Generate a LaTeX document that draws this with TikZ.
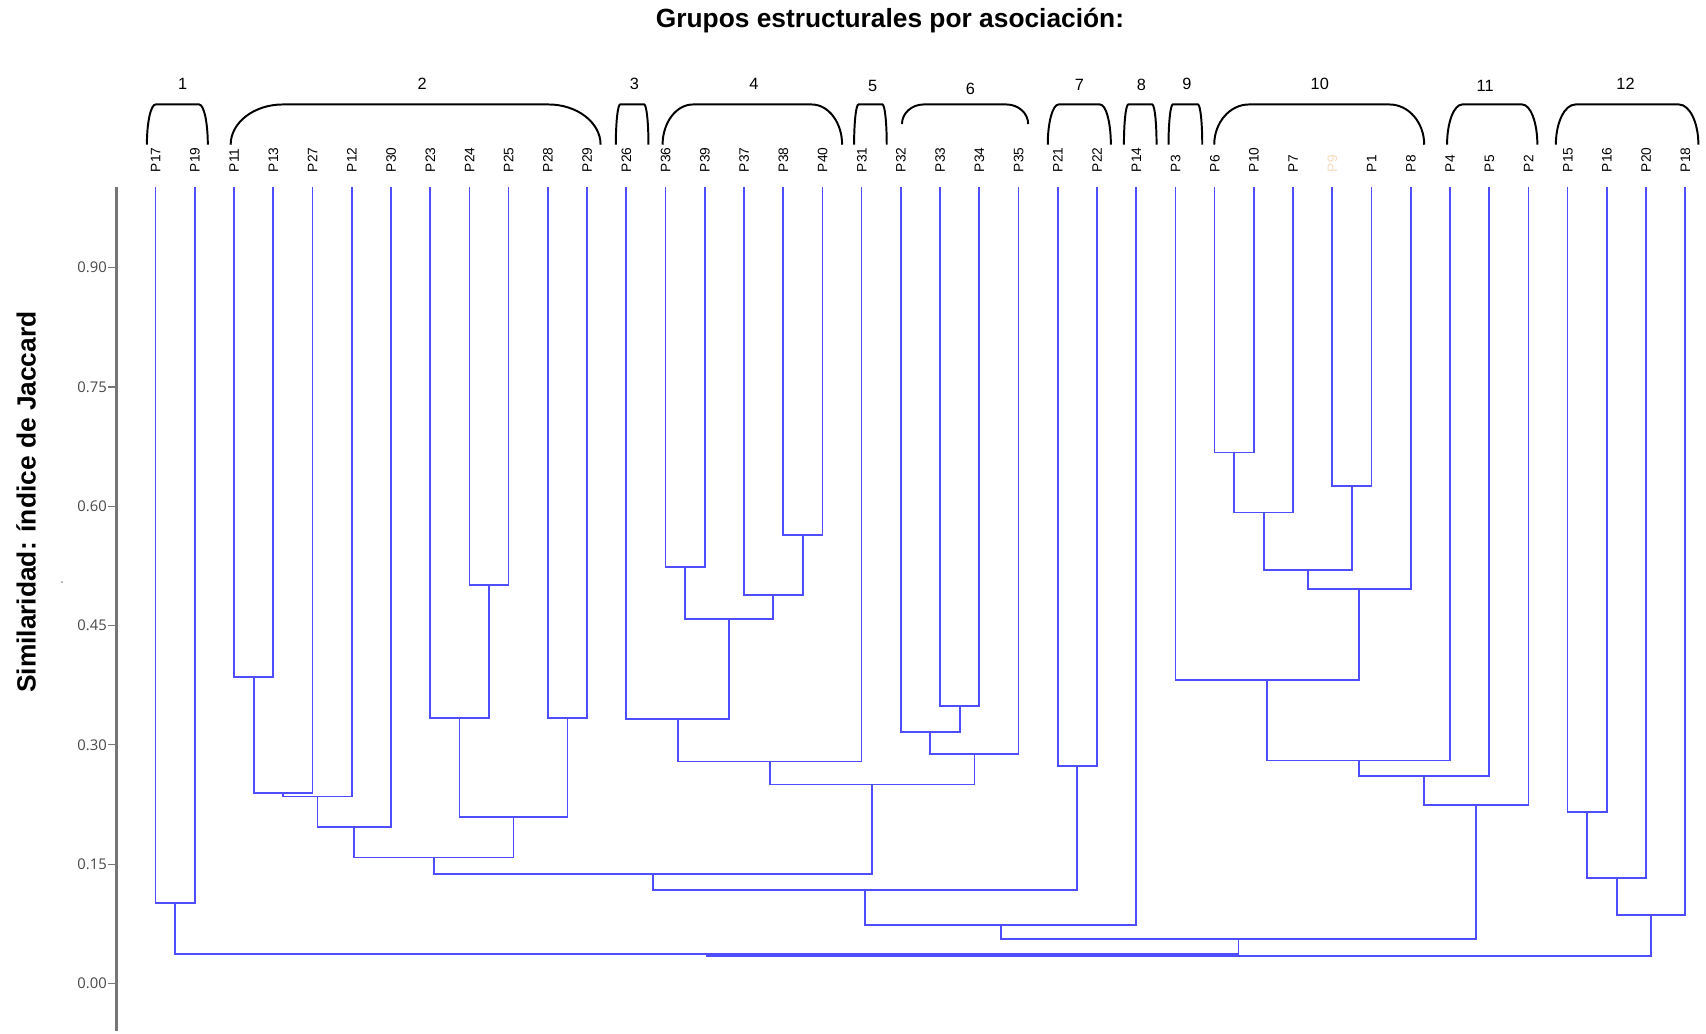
\documentclass[tikz,border=0pt]{standalone}
\usepackage{fontspec}
\setmainfont{Liberation Sans}
\newfontfamily\tickfont{Open Sans}
\usetikzlibrary{calc}

\definecolor{dendro}{RGB}{78,78,255}
\definecolor{axisgray}{RGB}{118,118,118}
\definecolor{ticktext}{RGB}{72,72,72}
\definecolor{faintlabel}{RGB}{248,220,190}

% join two clusters at height #4: new cluster #1, children #2 and #3
\newcommand\joinat[4]{%
  \coordinate (#1-c) at ($(#2)!0.5!(#3)$);
  \coordinate (#1) at (#1-c |- 0,#4);
  \draw[branch] (#2) -- (#2 |- #1) -- (#3 |- #1) -- (#3);
}

\begin{document}
\begin{tikzpicture}[x=0.5pt,y=-0.5pt,
  branch/.style={draw=dendro,line width=0.8pt,line join=miter},
  axisline/.style={draw=axisgray,line width=1pt},
  tickmark/.style={draw=axisgray,line width=0.5pt},
  ticklabel/.style={anchor=east,inner sep=0pt,text=ticktext,font=\tickfont\fontsize{6.8}{7}\selectfont},
  leaflabel/.style={rotate=90,anchor=west,inner sep=0pt,text height=4.5pt,text depth=0pt,font=\fontsize{6.3}{6.3}\selectfont},
  grouplabel/.style={inner sep=0pt,font=\fontsize{7.5}{7.5}\selectfont},
  bracket/.style={draw=black,line width=0.9pt},
  titletext/.style={inner sep=0pt,font=\bfseries\fontsize{12.1}{13}\selectfont},
]
\useasboundingbox (0,0) rectangle (1568,950);

% title and axis caption
\node[titletext,anchor=base] (title) at (818,25) {Grupos estructurales por asociación:};
\node[titletext,rotate=90] (ylab) at (24,461.5) {Similaridad: índice de Jaccard};
\fill[black!45] (57,535) circle[radius=0.45pt];

% similarity axis
\coordinate (axtop) at (107,172);
\coordinate (axbot) at (107,948);
\draw[axisline] (axtop) -- (axbot);
\foreach \v/\lab [count=\k] in {0/0.00,0.15/0.15,0.30/0.30,0.45/0.45,0.60/0.60,0.75/0.75,0.90/0.90}{
  \pgfmathsetmacro\yy{904-731.1*\v}
  \coordinate (tk\k) at (107,\yy);
  \draw[tickmark] (tk\k) -- ++(-8,0);
  \node[ticklabel] (tl\k) at (98.5,\yy) {\lab};
}

% leaves
\foreach \lab/\col [count=\i from 0] in {P17/black,P19/black,P11/black,P13/black,P27/black,P12/black,P30/black,P23/black,P24/black,P25/black,P28/black,P29/black,P26/black,P36/black,P39/black,P37/black,P38/black,P40/black,P31/black,P32/black,P33/black,P34/black,P35/black,P21/black,P22/black,P14/black,P3/black,P6/black,P10/black,P7/black,P9/faintlabel,P1/black,P8/black,P4/black,P5/black,P2/black,P15/black,P16/black,P20/black,P18/black}{
  \pgfmathsetmacro\xx{143+36.05*\i}
  \node[leaflabel,text=\col] (\lab) at (\xx,158.5) {\lab};
  \coordinate (l-\lab) at (\xx,172);
}

% group brackets with their numbers
\foreach \xl/\xr/\rx/\yb/\num/\lx/\ly in {
  135/191/8/133/1/168/77, 212/552/48/133/2/388/77, 566/596/4/133/3/583/77,
  609/774/28/133/4/693/77, 785/815/4/133/5/802/79, 829/945/20/114/6/892/82,
  963/1021/10/133/7/992/78, 1033/1063/4/133/8/1049/78, 1074/1105/4/133/9/1091/77,
  1116/1309/32/133/10/1213/77, 1330/1413/14/133/11/1365/79, 1430/1561/18/133/12/1494/77}{
  \pgfmathsetmacro\hh{\yb-96}
  \pgfmathsetmacro\cy{\yb-0.552*\hh}
  \pgfmathsetmacro\ax{\xl+\rx}
  \pgfmathsetmacro\acx{\xl+0.448*\rx}
  \pgfmathsetmacro\bx{\xr-\rx}
  \pgfmathsetmacro\bcx{\xr-0.448*\rx}
  \draw[bracket] (\xl,\yb) .. controls (\xl,\cy) and (\acx,96) .. (\ax,96)
     -- (\bx,96) .. controls (\bcx,96) and (\xr,\cy) .. (\xr,\yb);
  \node[grouplabel] (g\num) at (\lx,\ly) {\num};
}

% dendrogram
\joinat{m1}{l-P17}{l-P19}{830}
\joinat{m2}{l-P11}{l-P13}{622}
\joinat{m3}{m2}{l-P27}{729}
\joinat{m4}{m3}{l-P12}{732}
\joinat{m5}{m4}{l-P30}{760}
\joinat{m6}{l-P24}{l-P25}{538}
\joinat{m7}{l-P23}{m6}{660}
\joinat{m8}{l-P28}{l-P29}{660}
\joinat{m9}{m7}{m8}{751}
\joinat{m10}{m5}{m9}{788}
\joinat{m12}{l-P36}{l-P39}{521}
\joinat{m13}{l-P38}{l-P40}{492}
\joinat{m14}{l-P37}{m13}{547}
\joinat{m15}{m12}{m14}{569}
\joinat{m16}{l-P26}{m15}{661}
\joinat{m17}{m16}{l-P31}{700}
\joinat{m18}{l-P33}{l-P34}{649}
\joinat{m19}{l-P32}{m18}{673}
\joinat{m20}{m19}{l-P35}{693}
\joinat{m21}{m17}{m20}{721}
\joinat{m11}{m10}{m21}{803}
\joinat{m22}{l-P21}{l-P22}{704}
\joinat{m23}{m11}{m22}{818}
\joinat{m24}{m23}{l-P14}{850}
\joinat{m26}{l-P6}{l-P10}{416}
\joinat{m27}{m26}{l-P7}{471}
\joinat{m28}{l-P9}{l-P1}{447}
\joinat{m29}{m27}{m28}{524}
\joinat{m30}{m29}{l-P8}{541}
\joinat{m31}{l-P3}{m30}{625}
\joinat{m32}{m31}{l-P4}{699}
\joinat{m33}{m32}{l-P5}{713}
\joinat{m34}{m33}{l-P2}{740}
\joinat{m25}{m24}{m34}{863}
\joinat{m35}{l-P15}{l-P16}{746}
\joinat{m36}{m35}{l-P20}{807}
\joinat{m37}{m36}{l-P18}{841}
\joinat{r1}{m1}{m25}{877}
\joinat{r2}{r1}{m37}{878.5}
\end{tikzpicture}
\end{document}
